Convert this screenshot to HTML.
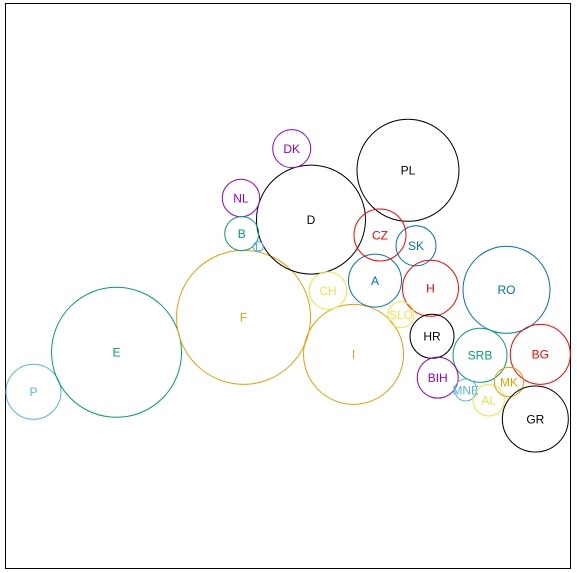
<!DOCTYPE html>
<html>
<head>
<meta charset="utf-8">
<title>Bubble chart of European countries</title>
<style>
html,body{margin:0;padding:0;background:#fff;}
svg{display:block;}
text{font-family:"Liberation Sans",Arial,sans-serif;font-size:12px;text-anchor:middle;dominant-baseline:central;}
</style>
</head>
<body>
<svg id="chart" width="577" height="573" viewBox="0 0 577 573" xmlns="http://www.w3.org/2000/svg">
<rect x="0" y="0" width="577" height="573" fill="#ffffff"/>
<rect x="5.5" y="3.5" width="565" height="565" fill="none" stroke="#000000" stroke-width="1"/>
<g id="bubbles"></g>
</svg>
<script>
const categories = ["P","E","F","D","I","PL","DK","NL","B","L","CH","A","CZ","SK","H","RO","SLO","HR","SRB","BG","BIH","MNE","AL","MK","GR"];
const xValues = [5.04,19.72,42.18,54.11,61.63,71.26,50.70,41.73,41.86,44.79,57.12,65.43,66.31,72.68,75.24,88.68,70.03,75.51,84.00,94.66,76.52,81.47,85.53,89.12,93.78];
const yValues = [31.33,38.32,44.51,61.81,37.96,70.53,74.37,65.63,59.33,57.03,49.24,51.01,59.08,57.17,49.65,49.38,44.99,41.15,37.79,37.96,33.84,31.65,29.82,33.06,26.51];
const sizeValues = [756,4225,4489,2970,2500,2601,361,350,289,25,350,702,676,400,784,1892,169,484,729,900,420,121,246,216,1089];
const groupValues = [2,3,1,0,1,0,7,7,3,2,4,5,6,5,6,5,4,0,3,6,7,2,4,1,0];

const palette = ["#000000","#E69F00","#56B4E9","#009E73","#F0E442","#0072B2","#FF0000","#9400D3"];
const xScale = function (v) { return 5 + v * 5.655; };
const yScale = function (v) { return 568.8 - v * 5.65; };
const rScale = function (v) { return Math.sqrt(v); };
const labelOffsetY = 0.4;

const svgNS = "http://www.w3.org/2000/svg";
const layer = document.getElementById("bubbles");
categories.forEach(function (name, i) {
  const key = name.toLowerCase();
  const colour = palette[groupValues[i]];
  const circle = document.createElementNS(svgNS, "circle");
  circle.setAttribute("cx", xScale(xValues[i]));
  circle.setAttribute("cy", yScale(yValues[i]));
  circle.setAttribute("r", rScale(sizeValues[i]));
  circle.setAttribute("fill", "none");
  circle.setAttribute("stroke", colour);
  circle.setAttribute("stroke-width", "1");
  
  
  layer.appendChild(circle);
  const label = document.createElementNS(svgNS, "text");
  label.setAttribute("x", xScale(xValues[i]));
  label.setAttribute("y", yScale(yValues[i]) + labelOffsetY);
  label.setAttribute("fill", colour);
  label.textContent = name;
  
  
  layer.appendChild(label);
});
</script>
</body>
</html>
